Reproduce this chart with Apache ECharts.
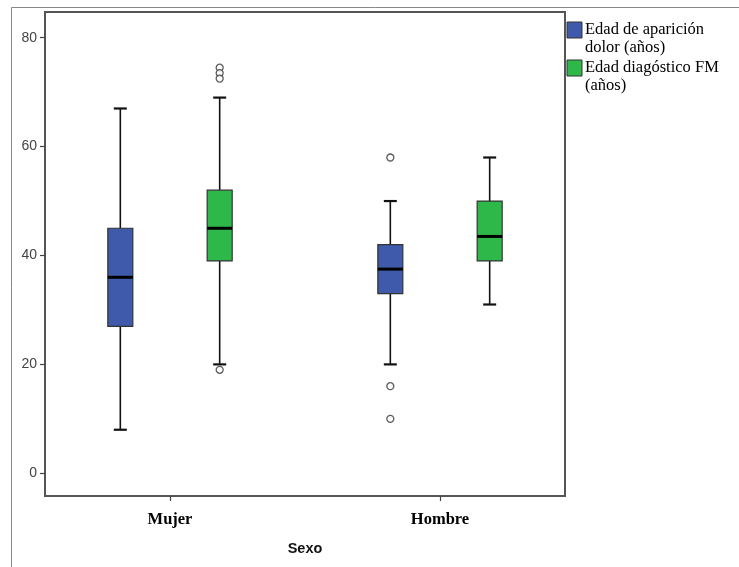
<!DOCTYPE html>
<html>
<head>
<meta charset="utf-8">
<script src="https://cdn.jsdelivr.net/npm/echarts@6/dist/echarts.min.js"></script>
<style>
  html, body { margin: 0; padding: 0; background: #fff; }
  #chart { width: 739px; height: 567px; }
</style>
</head>
<body>
<div id="chart"></div>
<script>
// Groups on the x axis and the two measured variables
const categories = ['Mujer', 'Hombre'];
const seriesNames = ['Edad de aparición\ndolor (años)', 'Edad diagóstico FM\n(años)'];

// Five-number summaries per group: [whisker low, Q1, median, Q3, whisker high]
const onsetStats = [
  [8, 27, 36, 45, 67],
  [20, 33, 37.5, 42, 50]
];
const diagnosisStats = [
  [20, 39, 45, 52, 69],
  [31, 39, 43.5, 50, 58]
];

// Outlying observations per group
const onsetOutliers = [
  [],
  [58, 16, 10]
];
const diagnosisOutliers = [
  [74.5, 73.5, 72.5, 19],
  []
];

// Y axis tick labels
const yTicks = [0, 20, 40, 60, 80];

const colors = ['#3F5AAA', '#2FB84A'];
const groupOffset = 0.184;   // horizontal shift of each box from the group centre
const boxHalf = 12.5;         // half box width, px
const capHalf = 6.5;          // half whisker-cap width, px

function boxData(stats, shift) {
  return stats.map((s, i) => [i + 1 + shift].concat(s));
}
function outlierData(list, shift) {
  const out = [];
  list.forEach((vals, i) => vals.forEach(v => out.push([i + 1 + shift, v])));
  return out;
}

function renderBox(params, api) {
  const x = api.value(0);
  const lo = api.coord([x, api.value(1)]);
  const q1 = api.coord([x, api.value(2)]);
  const md = api.coord([x, api.value(3)]);
  const q3 = api.coord([x, api.value(4)]);
  const hi = api.coord([x, api.value(5)]);
  const cx = lo[0];
  const line = { stroke: '#111', lineWidth: 1.6 };
  const cap = { stroke: '#111', lineWidth: 2.2 };
  return {
    type: 'group',
    children: [
      { type: 'line', shape: { x1: cx, y1: hi[1], x2: cx, y2: q3[1] }, style: line },
      { type: 'line', shape: { x1: cx, y1: q1[1], x2: cx, y2: lo[1] }, style: line },
      { type: 'line', shape: { x1: cx - capHalf, y1: hi[1], x2: cx + capHalf, y2: hi[1] }, style: cap },
      { type: 'line', shape: { x1: cx - capHalf, y1: lo[1], x2: cx + capHalf, y2: lo[1] }, style: cap },
      { type: 'rect', shape: { x: cx - boxHalf, y: q3[1], width: boxHalf * 2, height: q1[1] - q3[1] },
        style: { fill: api.visual('color'), stroke: '#333', lineWidth: 1.2 } },
      { type: 'line', shape: { x1: cx - boxHalf, y1: md[1], x2: cx + boxHalf, y2: md[1] },
        style: { stroke: '#000', lineWidth: 3 } }
    ]
  };
}

const chart = echarts.init(document.getElementById('chart'), null, { renderer: 'canvas' });

const outlierStyle = { color: '#fff', borderColor: '#333', borderWidth: 1.3 };

chart.setOption({
  animation: false,
  backgroundColor: '#fff',
  grid: {
    left: 45, top: 12, width: 520, height: 484,
    show: true, borderColor: '#555', borderWidth: 2, backgroundColor: 'transparent'
  },
  xAxis: {
    type: 'value',
    min: 1 - 125 / 270,
    max: 2 + 125 / 270,
    splitLine: { show: false },
    axisLine: { show: false, onZero: false },
    axisTick: { show: true, customValues: [1, 2], length: 5, lineStyle: { color: '#444', width: 1.2 } },
    axisLabel: {
      customValues: [1, 2],
      formatter: v => categories[Math.round(v) - 1] || '',
      margin: 15,
      fontFamily: 'Liberation Serif',
      fontWeight: 'bold',
      fontSize: 16.5,
      color: '#000'
    },
    name: 'Sexo',
    nameLocation: 'middle',
    nameGap: 45,
    nameTextStyle: { fontFamily: 'Liberation Sans', fontWeight: 'bold', fontSize: 14.5, color: '#111' }
  },
  yAxis: {
    type: 'value',
    min: -4.17,
    max: 84.72,
    splitLine: { show: false },
    axisLine: { show: false, onZero: false },
    axisTick: { show: true, customValues: yTicks, length: 5, lineStyle: { color: '#444', width: 1.2 } },
    axisLabel: {
      customValues: yTicks,
      margin: 8,
      fontFamily: 'Liberation Sans',
      fontSize: 14,
      color: '#444',
      padding: [3, 0, 0, 0]
    }
  },
  series: [
    { type: 'custom', name: seriesNames[0], renderItem: renderBox, itemStyle: { color: colors[0] },
      encode: { x: 0, y: [1, 2, 3, 4, 5] }, data: boxData(onsetStats, -groupOffset) },
    { type: 'custom', name: seriesNames[1], renderItem: renderBox, itemStyle: { color: colors[1] },
      encode: { x: 0, y: [1, 2, 3, 4, 5] }, data: boxData(diagnosisStats, groupOffset) },
    { type: 'scatter', symbol: 'circle', symbolSize: 7, itemStyle: outlierStyle,
      data: outlierData(onsetOutliers, -groupOffset) },
    { type: 'scatter', symbol: 'circle', symbolSize: 7, itemStyle: outlierStyle,
      data: outlierData(diagnosisOutliers, groupOffset) }
  ],
  graphic: [
    // outer frame (top and left edges)
    { type: 'polyline', silent: true, shape: { points: [[11.5, 567], [11.5, 7.5], [739, 7.5]] },
      style: { stroke: '#888', lineWidth: 1, fill: null } },
    // legend
    { type: 'rect', shape: { x: 567, y: 22, width: 15, height: 16 },
      style: { fill: colors[0], stroke: '#333', lineWidth: 1 } },
    { type: 'text', x: 585, y: 20.5,
      style: { text: seriesNames[0], font: '16.5px "Liberation Serif"', lineHeight: 18, fill: '#000' } },
    { type: 'rect', shape: { x: 567, y: 60, width: 15, height: 16 },
      style: { fill: colors[1], stroke: '#333', lineWidth: 1 } },
    { type: 'text', x: 585, y: 58.5,
      style: { text: seriesNames[1], font: '16.5px "Liberation Serif"', lineHeight: 18, fill: '#000' } }
  ]
});
</script>
</body>
</html>
